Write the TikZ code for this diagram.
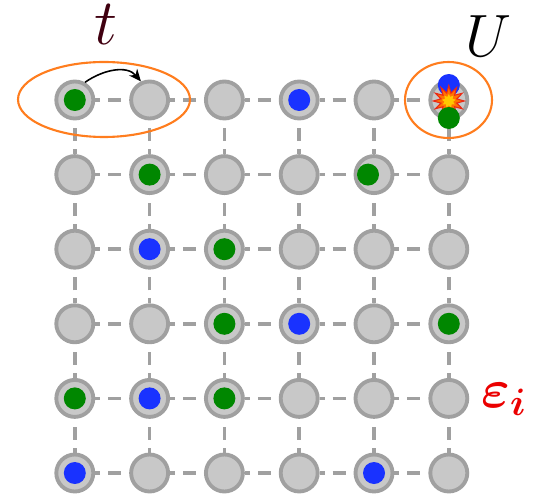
\RequirePackage{fix-cm}
\documentclass[tikz,border=0pt]{standalone}
\usepackage{amsmath}
\usetikzlibrary{arrows.meta,shapes.geometric}
\definecolor{siteGray}  {RGB}{200,200,200}
\definecolor{ringGray}  {RGB}{160,160,160}
\definecolor{dotGreen}  {RGB}{  0,135,  0}
\definecolor{dotBlue}   {RGB}{ 25, 50,255}
\definecolor{ringOrange}{RGB}{255,125, 30}
\definecolor{labelRed}  {RGB}{235,  0,  0}
\definecolor{tBrown}    {RGB}{ 64,  0, 16}
\definecolor{boomRed}   {RGB}{235, 40, 20}
\definecolor{boomOrange}{RGB}{255,115,  0}
\definecolor{boomYellow}{RGB}{255,200,  0}

\begin{document}
\begin{tikzpicture}[x=0.02cm,y=0.02cm,
          siteno/.style={circle,draw=ringGray,fill=siteGray,
                         minimum size=0.74cm,inner sep=0pt,line width=2.2pt},
          greenno/.style={circle,fill=dotGreen,minimum size=0.44cm,inner sep=0pt},
          blueno/.style={circle,fill=dotBlue,minimum size=0.44cm,inner sep=0pt},
          bond/.style={ringGray,line width=2pt,
                       dash pattern=on 2.8pt off 4.6pt on 7.4pt off 30pt},
          ringo/.style={draw=ringOrange,line width=1.2pt},
          bigfont/.style={font=\fontsize{34}{40}\selectfont,inner sep=0pt},
        ]
        \useasboundingbox (0,0) rectangle (536,497);
        % LATTICE
        \foreach \r in {1,...,6}
          \foreach \c in {1,...,6}
            \node[siteno] (s\r\c) at ({74.8*\c},{471.6-74.6*\r}) {};
        \foreach \r in {1,...,6}{
          \foreach \c [evaluate=\c as \d using int(\c+1)] in {1,...,5}{
            \draw[bond] (s\r\c) -- (s\r\d);
            \draw[bond] (s\d\r) -- (s\c\r);
          }
        }

        % PARTICLES
        \foreach \r/\c in {1/1,2/2,3/3,4/3,4/6,5/1,5/3}
          \node[greenno] (g\r\c) at (s\r\c) {};
        \node[greenno] (g25) at ([xshift=-0.12cm]s25) {};
        \foreach \r/\c in {1/4,3/2,4/4,5/2,6/1,6/5}
          \node[blueno] (b\r\c) at (s\r\c) {};

        % DOUBLE OCCUPATION
        \node[blueno] (b16) at ([yshift=0.3cm]s16) {};
        \node[star,star points=12,star point ratio=1.9,minimum size=0.62cm,
              inner sep=0pt,fill=boomOrange,draw=boomRed,line width=0.6pt]
              (boom) at ([yshift=-0.02cm]s16) {};
        \node[star,star points=9,star point ratio=1.6,minimum size=0.28cm,
              inner sep=0pt,fill=boomYellow] (boomc) at (boom) {};
        \node[greenno] (g16) at ([yshift=-0.36cm]s16) {};

        % HOPPING AND INTERACTION
        \draw[ringo] (104,397.5) ellipse [x radius=1.72cm,y radius=0.75cm];
        \draw[ringo] (448.5,397) ellipse [x radius=0.87cm,y radius=0.76cm];
        \draw[-{Stealth[length=7pt,width=6pt]},line width=0.9pt]
          (s11.60) to[out=35,in=130] (s12.115);

        \node[bigfont,font=\fontsize{37}{42}\selectfont,text=tBrown,anchor=base]
          (tlab) at (106,452) {$t$};
        \node[bigfont,anchor=base] (ulab) at (488,440) {$U$};
        \node[bigfont,font=\fontsize{31}{36}\selectfont,text=labelRed,
              anchor=base west] (elab) at (481,90)
          {$\boldsymbol{\varepsilon}_{\boldsymbol{i}}$};
      \end{tikzpicture}
\end{document}
